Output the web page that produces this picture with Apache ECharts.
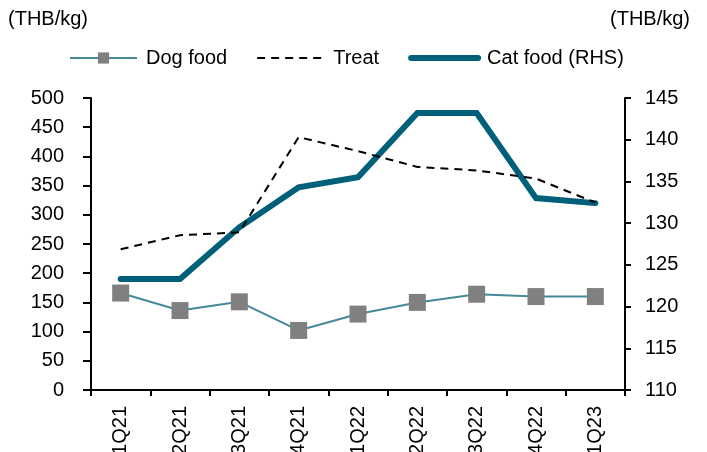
<!DOCTYPE html>
<html>
<head>
<meta charset="utf-8">
<script src="https://cdn.jsdelivr.net/npm/echarts@6/dist/echarts.min.js"></script>
<style>
html,body{margin:0;padding:0;background:#fff;}
#chart{width:707px;height:452px;}
</style>
</head>
<body>
<div id="chart"></div>
<script>
const categories = ['1Q21','2Q21','3Q21','4Q21','1Q22','2Q22','3Q22','4Q22','1Q23'];
const dogFood = [166, 136, 151, 102, 130, 150, 164, 160, 160];
const treat = [241, 265, 270, 433, 409, 382, 376, 362, 321];
const catFood = [123.3, 123.3, 129.5, 134.3, 135.5, 143.2, 143.2, 133.0, 132.4];
const leftTicks = {min: 0, max: 500, interval: 50};
const rightTicks = {min: 110, max: 145, interval: 5};
const unitLabel = '(THB/kg)';

const FONT = '"Liberation Sans", Arial, sans-serif';
const chart = echarts.init(document.getElementById('chart'), null, {renderer: 'canvas'});
const axisLine = {show: true, lineStyle: {color: '#000', width: 2}};
const axisLabel = {color: '#000', fontSize: 20, fontFamily: FONT};

chart.setOption({
  animation: false,
  backgroundColor: '#fff',
  grid: {left: 91, right: 82, top: 98, bottom: 62, containLabel: false, outerBoundsMode: 'none'},
  graphic: [
    {type: 'text', left: 8, top: 9, style: {text: unitLabel, font: '20px ' + FONT, fill: '#000'}},
    {type: 'text', right: 17, top: 9, style: {text: unitLabel, font: '20px ' + FONT, fill: '#000'}}
  ],
  legend: {
    left: 64, top: 43,
    itemWidth: 67, itemHeight: 14, itemGap: 29,
    lineStyle: {width: 'inherit'},
    textStyle: {fontSize: 20, fontFamily: FONT, color: '#000', padding: [0, 0, 0, 4]},
    data: [
      {name: 'Dog food'},
      {name: 'Treat', itemStyle: {opacity: 0}},
      {name: 'Cat food (RHS)', itemStyle: {opacity: 0}}
    ]
  },
  xAxis: {
    type: 'category',
    data: categories,
    boundaryGap: true,
    axisLine: axisLine,
    axisTick: {show: true, alignWithLabel: false, length: 6, inside: false, lineStyle: {color: '#000', width: 2}},
    axisLabel: Object.assign({}, axisLabel, {rotate: 90, margin: 16, interval: 0}),
    splitLine: {show: false}
  },
  yAxis: [
    {
      type: 'value', position: 'left',
      min: leftTicks.min, max: leftTicks.max, interval: leftTicks.interval,
      axisLine: axisLine,
      axisTick: {show: true, length: 8, lineStyle: {color: '#000', width: 2}},
      axisLabel: Object.assign({}, axisLabel, {margin: 27}),
      splitLine: {show: false}
    },
    {
      type: 'value', position: 'right',
      min: rightTicks.min, max: rightTicks.max, interval: rightTicks.interval,
      axisLine: axisLine,
      axisTick: {show: true, length: 6, lineStyle: {color: '#000', width: 2}},
      axisLabel: Object.assign({}, axisLabel, {margin: 20}),
      splitLine: {show: false}
    }
  ],
  series: [
    {
      name: 'Cat food (RHS)', type: 'line', yAxisIndex: 1, data: catFood,
      symbol: 'none', z: 2,
      lineStyle: {color: '#00607a', width: 6, cap: 'round', join: 'miter'},
      itemStyle: {color: '#00607a'}
    },
    {
      name: 'Treat', type: 'line', yAxisIndex: 0, data: treat,
      symbol: 'none', z: 3,
      lineStyle: {color: '#000', width: 2, type: [8, 6]},
      itemStyle: {color: '#000'}
    },
    {
      name: 'Dog food', type: 'line', yAxisIndex: 0, data: dogFood,
      symbol: 'rect', symbolSize: 17, z: 4,
      lineStyle: {color: '#45889b', width: 2},
      itemStyle: {color: '#808080', borderWidth: 0}
    }
  ]
});
</script>
</body>
</html>
